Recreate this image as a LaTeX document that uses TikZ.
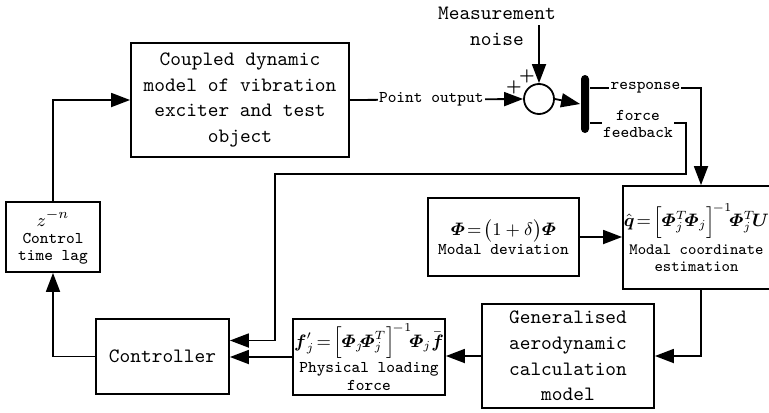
\documentclass[tikz,border=0pt]{standalone}
\usepackage{amsmath}
\usepackage{amssymb}
\usepackage{tikz}
\usetikzlibrary{arrows.meta,positioning,calc}

\newcommand{\bPhi}{\boldsymbol{\varPhi}}
\newcommand{\eqs}{\!=\!}
\newcommand{\smalltxt}{\fontsize{8.2}{8.6}\selectfont}
\newcommand{\mathtxt}{\fontsize{9.4}{10}\selectfont}

\begin{document}
\begin{tikzpicture}[
      x=0.5pt, y=-0.5pt, line width=0.9pt,
      >={Triangle[length=9.5pt,width=7pt]},
      font=\fontsize{10.2}{12.8}\selectfont\ttfamily,
      blk/.style={draw, align=center, inner sep=1pt},
      sblk/.style={blk, font=\smalltxt\ttfamily},
      lbl/.style={fill=white, inner sep=0.6pt, align=center, font=\smalltxt\ttfamily},
    ]
    \useasboundingbox (0,0) rectangle (769,412);

    % forward path
    \node[blk, minimum width=109pt, minimum height=57pt] (plant) at (240,100)
      {Coupled dynamic\\model of vibration\\exciter and test\\object};
    \node[draw, circle, minimum size=15pt, inner sep=0pt] (sum) at (539,99) {};
    \node[fill=black, rounded corners=2pt, minimum width=4pt, minimum height=29pt,
          inner sep=0pt] (bar) at (585,104) {};
    \node[align=center, font=\fontsize{10.2}{13}\selectfont\ttfamily] (noise) at (497,26)
      {Measurement\\noise};
    \coordinate (nz) at (539,25);
    \node[font=\smalltxt\bfseries] (pa) at (514,87) {+};
    \node[font=\smalltxt\bfseries] (pb) at (527,76) {+};

    % estimation
    \node[sblk, minimum width=75.5pt, minimum height=39pt] (moddev) at (503.5,237)
      {{\mathtxt$\bPhi\eqs\bigl(1+\delta\bigr)\bPhi$}\\[1pt]Modal deviation};
    \node[sblk, minimum width=71.5pt, minimum height=51.5pt, inner sep=0.5pt,
          font=\fontsize{7.9}{8.6}\selectfont\ttfamily] (modcoord) at (696.5,237.5)
      {{\fontsize{8.8}{9}\selectfont$\hat{\boldsymbol{q}}\eqs\Bigl[\bPhi_j^T\!\bPhi_j\Bigr]^{\!-1}\!\bPhi_j^T\!\boldsymbol{U}$}\\[2pt]
       Modal coordinate\\estimation};

    % bottom row
    \node[blk, minimum width=66.5pt, minimum height=37.5pt] (ctrl) at (162.5,356.5) {Controller};
    \node[sblk, minimum width=76pt, minimum height=38pt, inner sep=0.5pt] (phys) at (369,357)
      {{\fontsize{8.8}{9}\selectfont$\boldsymbol{f}_j'\eqs\Bigl[\bPhi_j\!\bPhi_j^T\Bigr]^{\!-1}\!\bPhi_j\bar{\boldsymbol{f}}$}\\[1pt]
       Physical loading\\force};
    \node[blk, minimum width=86pt, minimum height=52pt] (gen) at (568,356)
      {Generalised\\aerodynamic\\calculation\\model};
    \node[sblk, minimum width=47pt, minimum height=35pt] (zbox) at (53,237)
      {{\mathtxt$z^{-n}$}\\Control\\time lag};

    % flows
    \draw[->] (plant.east) -- (sum.west) node[lbl, pos=0.47]{Point output};
    \draw[->] (nz) -- (sum.north);
    \draw[->] (sum.east) -- (bar.west);
    \coordinate (rc) at (701,88);
    \draw[->] (bar.east |- rc) -- node[lbl]{response} (rc) -- (rc |- modcoord.north);
    \coordinate (fc) at (686,123);
    \coordinate (fd) at (275,174);
    \draw[->] (bar.east |- fc) -- (fc) -- (fc |- fd) -- (fd)
      |- ($(ctrl.east)+(0,-16)$);
    \node[lbl] (fb) at (638,124) {force\\feedback};
    \draw[->] (moddev.east) -- (moddev.east -| modcoord.west);
    \draw[->] (rc |- modcoord.south) |- (gen.east);
    \draw[->] (gen.west) -- (gen.west -| phys.east);
    \draw[->] (phys.west) -- (phys.west -| ctrl.east);
    \draw[->] (ctrl.west) -| (zbox.south);
    \draw[->] (zbox.north) |- (plant.west);
  \end{tikzpicture}
\end{document}
